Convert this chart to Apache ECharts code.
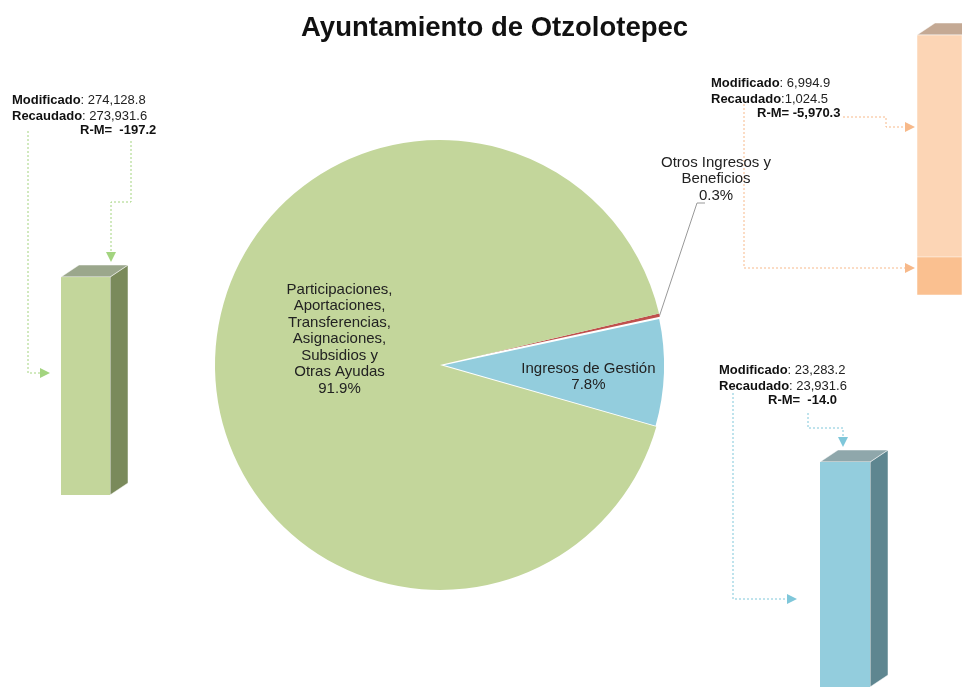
<!DOCTYPE html>
<html>
<head>
<meta charset="utf-8">
<script src="https://cdn.jsdelivr.net/npm/echarts/dist/echarts.min.js"></script>
<style>
  html, body { margin: 0; padding: 0; background: #fff; }
  #main { width: 962px; height: 687px; }
</style>
</head>
<body>
<div id="main"></div>
<script>
// pie slices (share of total recaudado, %)
var sliceNames = ['Otros Ingresos y\nBeneficios', 'Ingresos de Gestión',
    'Participaciones,\nAportaciones,\nTransferencias,\nAsignaciones,\nSubsidios y\nOtras Ayudas'];
var slicePct = [0.3, 7.8, 91.9];
var sliceColors = ['#c0504d', '#93cddd', '#c3d69b'];

// bars: modificado vs recaudado (green = participaciones, orange = otros, blue = gestion)
var barNames = ['Participaciones', 'Otros Ingresos', 'Ingresos de Gestión'];
var modificado = [274128.8, 6994.9, 23283.2];
var recaudado = [273931.6, 1024.5, 23931.6];
var diferencia = [-197.2, -5970.3, -14.0];

var front = ['#c3d69b', '#fcd5b5', '#93cddd'];
var recFill = ['#c3d69b', '#fac090', '#93cddd'];
var side = ['#7a8a5b', '#b39a86', '#5e8690'];
var topc = ['#9ba78c', '#c4a994', '#8fa7ab'];
var lineCol = ['#a3d47f', '#f7b98a', '#7fc7da'];

function fmt(v) {
    var s = Math.abs(v).toFixed(1).split('.');
    s[0] = s[0].replace(/\B(?=(\d{3})+(?!\d))/g, ',');
    return (v < 0 ? '-' : '') + s.join('.');
}

var myChart = echarts.init(document.getElementById('main'));

function makeBar(i) {
    return function (params, api) {
        var t = api.coord([0, api.value(1)]);
        var b = api.coord([0, 0]);
        var r = api.coord([0, Math.min(api.value(2), api.value(1))]);
        var w = api.size([1, 0])[0];
        var x0 = t[0] - w / 2, x1 = t[0] + w / 2;
        var dx = 18, dy = 12;
        return {
            type: 'group',
            children: [
                { type: 'polygon', shape: { points: [[x1, t[1]], [x1 + dx, t[1] - dy], [x1 + dx, b[1] - dy], [x1, b[1]]] },
                  style: { fill: side[i], stroke: '#fff', lineWidth: 0.5 } },
                { type: 'polygon', shape: { points: [[x0, t[1]], [x0 + dx, t[1] - dy], [x1 + dx, t[1] - dy], [x1, t[1]]] },
                  style: { fill: topc[i], stroke: '#fff', lineWidth: 0.5 } },
                { type: 'rect', shape: { x: x0, y: t[1], width: w, height: b[1] - t[1] },
                  style: { fill: front[i], stroke: '#fff', lineWidth: 0.5 } },
                { type: 'rect', shape: { x: x0, y: r[1], width: w, height: b[1] - r[1] },
                  style: { fill: recFill[i], stroke: recFill[i] == front[i] ? null : '#fff', lineWidth: 0.5 } }
            ]
        };
    };
}

var grids = [
    { left: 61, width: 49, top: 277, bottom: 192 },
    { left: 917, width: 50, top: 35, bottom: 392 },
    { left: 820, width: 50, top: 462, bottom: -15 }
];

var xAxes = [], yAxes = [], barSeries = [];
for (var i = 0; i < 3; i++) {
    xAxes.push({ type: 'category', gridIndex: i, data: [barNames[i]], show: false });
    yAxes.push({ type: 'value', gridIndex: i, min: 0, max: modificado[i], show: false });
    barSeries.push({
        type: 'custom',
        xAxisIndex: i,
        yAxisIndex: i,
        silent: true,
        clip: false,
        renderItem: makeBar(i),
        data: [[0, modificado[i], recaudado[i]]]
    });
}

// annotation text blocks
function note(i, x, y, rmX) {
    var rich = { b: { fontWeight: 'bold', fontSize: 13, fill: '#111', fontFamily: 'Liberation Sans' },
                 n: { fontSize: 13, fill: '#222', fontFamily: 'Liberation Sans' } };
    return [
        { type: 'text', left: x, top: y, style: { rich: rich,
            text: '{b|Modificado}{n|: ' + fmt(modificado[i]) + '}\n{b|Recaudado}{n|' + (i == 1 ? ':' : ': ') + fmt(recaudado[i]) + '}',
            lineHeight: 15.5 } },
        { type: 'text', left: rmX, top: y + 31, style: { rich: rich,
            text: '{b|R-M=' + (i == 1 ? ' ' : '  ') + fmt(diferencia[i]) + '}' } }
    ];
}

function arrow(pts, color) {
    var n = pts.length, a = pts[n - 2], b = pts[n - 1];
    var ang = Math.atan2(b[1] - a[1], b[0] - a[0]);
    var L = 10, H = 5;
    var tip = [b[0] + Math.cos(ang) * L, b[1] + Math.sin(ang) * L];
    var p1 = [b[0] - Math.sin(ang) * H, b[1] + Math.cos(ang) * H];
    var p2 = [b[0] + Math.sin(ang) * H, b[1] - Math.cos(ang) * H];
    return [
        { type: 'polyline', shape: { points: pts }, style: { stroke: color, lineWidth: 1, lineDash: [2, 2], fill: null } },
        { type: 'polygon', shape: { points: [tip, p1, p2] }, style: { fill: color } }
    ];
}

var graphics = [].concat(
    note(0, 12, 93, 80),
    note(1, 711, 76, 757),
    note(2, 719, 363, 768),
    arrow([[28, 131], [28, 373], [40, 373]], lineCol[0]),
    arrow([[131, 141], [131, 202], [111, 202], [111, 252]], lineCol[0]),
    arrow([[843, 117], [886, 117], [886, 127], [905, 127]], lineCol[1]),
    arrow([[744, 104], [744, 268], [905, 268]], lineCol[1]),
    arrow([[733, 393], [733, 599], [787, 599]], lineCol[2]),
    arrow([[808, 413], [808, 428], [843, 428], [843, 437]], lineCol[2])
);

var pieData = [];
for (var k = 0; k < slicePct.length; k++) {
    pieData.push({ name: sliceNames[k], value: slicePct[k], itemStyle: { color: sliceColors[k], borderWidth: 0 } });
}
pieData[1].itemStyle.borderWidth = 2;
pieData[1].label = { position: 'inside', offset: [33, 8] };
pieData[2].label = { position: 'inside', offset: [15, -23] };

var option = {
    backgroundColor: '#ffffff',
    animation: false,
    title: {
        text: 'Ayuntamiento de Otzolotepec',
        left: 296,
        top: 9,
        textStyle: { fontSize: 27.5, fontWeight: 'bold', color: '#111', fontFamily: 'Liberation Sans' }
    },
    grid: grids,
    xAxis: xAxes,
    yAxis: yAxes,
    graphic: graphics,
    series: [{
        type: 'pie',
        center: [440, 365],
        radius: 225,
        startAngle: 13.2,
        clockwise: true,
        silent: true,
        itemStyle: { borderColor: '#fff', borderWidth: 0 },
        label: {
            position: 'outside',
            formatter: '{b}\n{d}%',
            color: '#222',
            fontSize: 15,
            lineHeight: 16.5,
            fontFamily: 'Liberation Sans'
        },
        labelLine: { show: true, lineStyle: { color: '#999', width: 1 } },
        labelLayout: function (params) {
            if (params.dataIndex !== 0) return {};
            var p0 = params.labelLinePoints ? params.labelLinePoints[0] : [657, 313];
            return {
                x: 716, y: 179, align: 'center', verticalAlign: 'middle',
                labelLinePoints: [p0, [697, 203], [705, 203]]
            };
        },
        data: pieData
    }].concat(barSeries)
};
myChart.setOption(option);
</script>
</body>
</html>
